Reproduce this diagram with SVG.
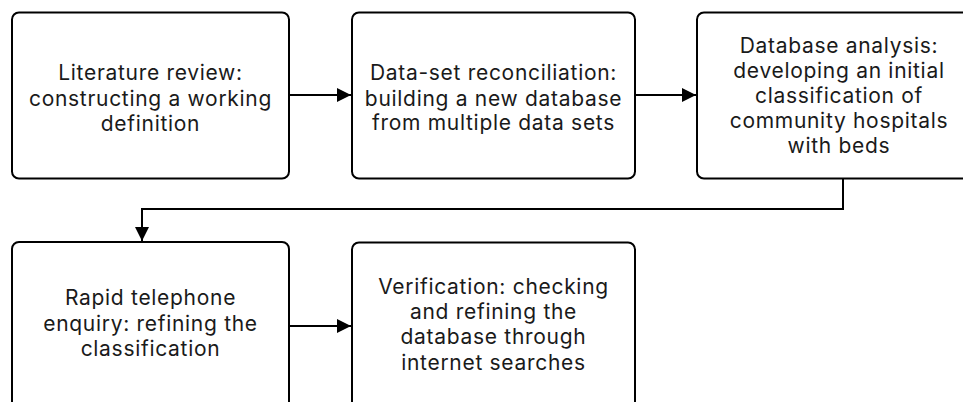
<svg xmlns="http://www.w3.org/2000/svg" width="963" height="402" viewBox="0 0 963 402">
<defs>
<style>
.box{fill:#fff;stroke:#000;stroke-width:2}
.t{font-family:Inter,"Noto Sans",sans-serif;font-size:21px;letter-spacing:0.7px;fill:#1a1a1a;text-anchor:middle}
.c{fill:none;stroke:#000;stroke-width:2}
</style>
<marker id="ah" markerWidth="14" markerHeight="14" refX="14" refY="7" orient="auto" markerUnits="userSpaceOnUse">
<path d="M0,0 L14,7 L0,14 Z" fill="#000"/>
</marker>
</defs>
<g id="connectors">
<path class="c" d="M289,95 H351" marker-end="url(#ah)"/>
<path class="c" d="M635,95 H696" marker-end="url(#ah)"/>
<path class="c" d="M843,179 V209 H142 V241" marker-end="url(#ah)"/>
<path class="c" d="M289,326 H351" marker-end="url(#ah)"/>
</g>
<g id="n1">
<rect class="box" x="12" y="12.5" width="277" height="166" rx="7"/>
<text class="t" x="150.5" y="80">Literature review:</text>
<text class="t" x="150.5" y="106">constructing a working</text>
<text class="t" x="150.5" y="131">definition</text>
</g>
<g id="n2">
<rect class="box" x="352" y="12.5" width="283" height="166" rx="7"/>
<text class="t" x="493.5" y="80">Data-set reconciliation:</text>
<text class="t" x="493.5" y="106">building a new database</text>
<text class="t" x="493.5" y="130">from multiple data sets</text>
</g>
<g id="n3">
<rect class="box" x="697" y="12.5" width="284" height="166" rx="7"/>
<text class="t" x="839" y="53">Database analysis:</text>
<text class="t" x="839" y="78">developing an initial</text>
<text class="t" x="839" y="103">classification of</text>
<text class="t" x="839" y="128">community hospitals</text>
<text class="t" x="839" y="153">with beds</text>
</g>
<g id="n4">
<rect class="box" x="12" y="242" width="277" height="170" rx="7"/>
<text class="t" x="150.5" y="305">Rapid telephone</text>
<text class="t" x="150.5" y="330.5">enquiry: refining the</text>
<text class="t" x="150.5" y="355.5">classification</text>
</g>
<g id="n5">
<rect class="box" x="352" y="242.5" width="283" height="170" rx="7"/>
<text class="t" x="493.5" y="294">Verification: checking</text>
<text class="t" x="493.5" y="319">and refining the</text>
<text class="t" x="493.5" y="344">database through</text>
<text class="t" x="493.5" y="369.5">internet searches</text>
</g>
</svg>
